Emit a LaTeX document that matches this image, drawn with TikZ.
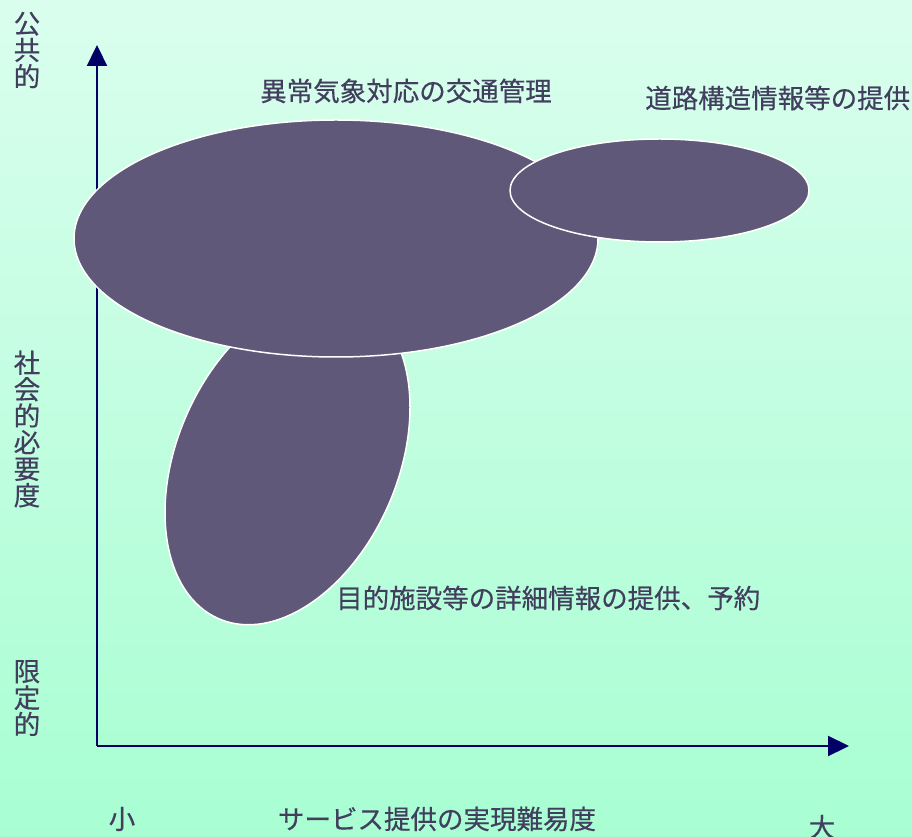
\documentclass[tikz,border=0pt]{standalone}
\usepackage{fontspec}
\setmainfont{Noto Sans CJK JP}[FakeBold=0.4]
\usetikzlibrary{arrows.meta}
\definecolor{bgtop}{HTML}{DAFEEE}
\definecolor{bgbot}{HTML}{A8FED2}
\definecolor{blobfill}{HTML}{605878}
\definecolor{txt}{HTML}{423E5E}
\definecolor{axiscol}{HTML}{000066}
\begin{document}
\begin{tikzpicture}[x=1pt,y=1pt,
  blob/.style={fill=blobfill,draw=white,line width=1.5pt},
  axisline/.style={draw=axiscol,line width=2.2pt,-{Triangle[length=21pt,width=20pt]}},
  lab/.style={text=txt,inner sep=0pt,font=\fontsize{26.5}{26.5}\selectfont},
  vlab/.style={lab,align=center}]
\shade[top color=bgtop,bottom color=bgbot] (0,0) rectangle (912,836);
\useasboundingbox (0,0) rectangle (912,836);
% axes
\coordinate (o) at (97,90);
\coordinate (ytip) at (97,791);
\coordinate (xtip) at (849,90);
\draw[axisline] (o) -- (ytip);
\draw[axisline] (o) -- (xtip);
% blobs
\draw[blob,rotate around={66.6:(287.5,376)}] (287.5,376) ellipse [x radius=173, y radius=110.5];
\draw[blob] (336,597.5) ellipse [x radius=262, y radius=118.5];
\draw[blob] (659.5,645.5) ellipse [x radius=149.5, y radius=51.5];
% labels
\node[lab] (l1) at (406,745) {異常気象対応の交通管理};
\node[lab,anchor=west] (l2) at (645,738) {道路構造情報等の提供};
\node[lab,anchor=west] (l3) at (336,238) {目的施設等の詳細情報の提供、予約};
\node[vlab] (v1) at (27,786) {公\\共\\的};
\node[vlab] (v2) at (27,407) {社\\会\\的\\必\\要\\度};
\node[vlab] (v3) at (27,138) {限\\定\\的};
\node[lab] (s) at (122,17) {小};
\node[lab] (xl) at (437,17) {サービス提供の実現難易度};
\node[lab] (b) at (822,9) {大};
\end{tikzpicture}
\end{document}
